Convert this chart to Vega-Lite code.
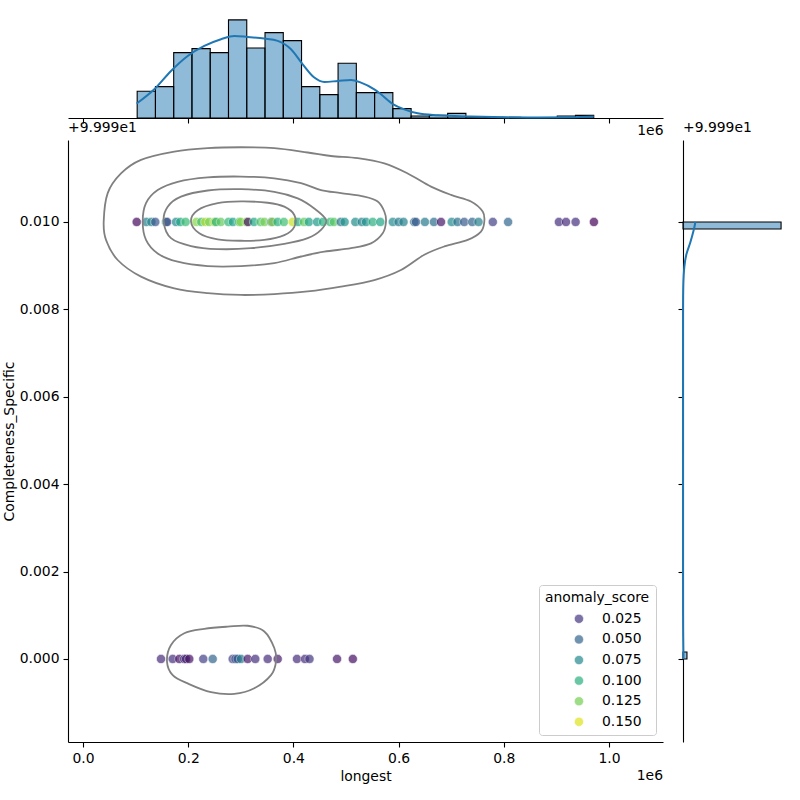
{
  "$schema": "https://vega.github.io/schema/vega-lite/v6.json",
  "padding": {"left": 2, "top": 15, "right": 0, "bottom": 0},
  "background": "white",
  "config": {
    "font": "DejaVu Sans",
    "view": {"stroke": null},
    "axis": {
      "labelFont": "DejaVu Sans", "labelFontSize": 13.9, "labelColor": "#000",
      "titleFont": "DejaVu Sans", "titleFontSize": 13.9, "titleFontWeight": "normal", "titleColor": "#000",
      "domainColor": "#000", "domainWidth": 1.1, "tickColor": "#000", "tickWidth": 1.1, "tickSize": 5,
      "labelPadding": 4, "grid": false
    },
    "title": {"font": "DejaVu Sans", "fontSize": 13.9, "fontWeight": "normal", "color": "#000", "anchor": "start", "frame": "group"}
  },
  "datasets": {
    "hist_x": [
      {"bin_start": 103000, "bin_end": 137720, "count": 40},
      {"bin_start": 137720, "bin_end": 172440, "count": 47},
      {"bin_start": 172440, "bin_end": 207160, "count": 98},
      {"bin_start": 207160, "bin_end": 241880, "count": 104},
      {"bin_start": 241880, "bin_end": 276600, "count": 98},
      {"bin_start": 276600, "bin_end": 311320, "count": 147},
      {"bin_start": 311320, "bin_end": 346040, "count": 105},
      {"bin_start": 346040, "bin_end": 380760, "count": 128},
      {"bin_start": 380760, "bin_end": 415480, "count": 116},
      {"bin_start": 415480, "bin_end": 450200, "count": 47},
      {"bin_start": 450200, "bin_end": 484920, "count": 35},
      {"bin_start": 484920, "bin_end": 519640, "count": 82},
      {"bin_start": 519640, "bin_end": 554360, "count": 38},
      {"bin_start": 554360, "bin_end": 589080, "count": 38},
      {"bin_start": 589080, "bin_end": 623800, "count": 14},
      {"bin_start": 623800, "bin_end": 658520, "count": 3},
      {"bin_start": 658520, "bin_end": 693240, "count": 4},
      {"bin_start": 693240, "bin_end": 727960, "count": 7},
      {"bin_start": 727960, "bin_end": 762680, "count": 2},
      {"bin_start": 762680, "bin_end": 797400, "count": 1},
      {"bin_start": 797400, "bin_end": 832120, "count": 1},
      {"bin_start": 832120, "bin_end": 866840, "count": 0},
      {"bin_start": 866840, "bin_end": 901560, "count": 0},
      {"bin_start": 901560, "bin_end": 936280, "count": 3},
      {"bin_start": 936280, "bin_end": 971000, "count": 4}
    ],
    "kde_x": [
      {"longest": 102000, "density": 21.6},
      {"longest": 135550, "density": 43},
      {"longest": 167300, "density": 70.5},
      {"longest": 199050, "density": 93},
      {"longest": 230610, "density": 108},
      {"longest": 262360, "density": 118},
      {"longest": 287640, "density": 123},
      {"longest": 313120, "density": 121.5},
      {"longest": 344680, "density": 119},
      {"longest": 370150, "density": 115.5},
      {"longest": 395440, "density": 103},
      {"longest": 417680, "density": 80.5},
      {"longest": 439730, "density": 60.6},
      {"longest": 458750, "density": 54},
      {"longest": 484220, "density": 55.5},
      {"longest": 509510, "density": 57},
      {"longest": 528520, "density": 53},
      {"longest": 553800, "density": 43},
      {"longest": 566540, "density": 35.5},
      {"longest": 589920, "density": 20.5},
      {"longest": 610840, "density": 13},
      {"longest": 636310, "density": 7},
      {"longest": 674330, "density": 4},
      {"longest": 737640, "density": 2.1},
      {"longest": 800380, "density": 1},
      {"longest": 864450, "density": 0.6},
      {"longest": 927760, "density": 1},
      {"longest": 971050, "density": 2.1}
    ],
    "hist_y": [
      {"lo": 99.99984, "hi": 100.0, "count": 1114},
      {"lo": 99.99, "hi": 99.99016, "count": 45}
    ],
    "kde_y": [
      {"completeness": 100.0, "density": 140.7},
      {"completeness": 99.999815, "density": 121.7},
      {"completeness": 99.999535, "density": 83.6},
      {"completeness": 99.999254, "density": 38},
      {"completeness": 99.998975, "density": 15.2},
      {"completeness": 99.998602, "density": 3.8},
      {"completeness": 99.998135, "density": 0.5},
      {"completeness": 99.9975, "density": 0.1},
      {"completeness": 99.996, "density": 0},
      {"completeness": 99.994, "density": 0},
      {"completeness": 99.992, "density": 0.1},
      {"completeness": 99.991, "density": 0.6},
      {"completeness": 99.9905, "density": 2},
      {"completeness": 99.99, "density": 5.5}
    ],
    "points": [
      {"longest": 102090, "completeness": 100.0, "anomaly_score": 0.004},
      {"longest": 120530, "completeness": 100.0, "anomaly_score": 0.068},
      {"longest": 130000, "completeness": 100.0, "anomaly_score": 0.075},
      {"longest": 137450, "completeness": 100.0, "anomaly_score": 0.042},
      {"longest": 157790, "completeness": 100.0, "anomaly_score": 0.085},
      {"longest": 160000, "completeness": 100.0, "anomaly_score": 0.03},
      {"longest": 176800, "completeness": 100.0, "anomaly_score": 0.075},
      {"longest": 185000, "completeness": 100.0, "anomaly_score": 0.095},
      {"longest": 195060, "completeness": 100.0, "anomaly_score": 0.108},
      {"longest": 215590, "completeness": 100.0, "anomaly_score": 0.13},
      {"longest": 225000, "completeness": 100.0, "anomaly_score": 0.11},
      {"longest": 232520, "completeness": 100.0, "anomaly_score": 0.14},
      {"longest": 240000, "completeness": 100.0, "anomaly_score": 0.125},
      {"longest": 250000, "completeness": 100.0, "anomaly_score": 0.14},
      {"longest": 252850, "completeness": 100.0, "anomaly_score": 0.1},
      {"longest": 262000, "completeness": 100.0, "anomaly_score": 0.12},
      {"longest": 276620, "completeness": 100.0, "anomaly_score": 0.105},
      {"longest": 285000, "completeness": 100.0, "anomaly_score": 0.09},
      {"longest": 296960, "completeness": 100.0, "anomaly_score": 0.112},
      {"longest": 300000, "completeness": 100.0, "anomaly_score": 0.13},
      {"longest": 311000, "completeness": 100.0, "anomaly_score": 0.13},
      {"longest": 313690, "completeness": 100.0, "anomaly_score": 0.008},
      {"longest": 325000, "completeness": 100.0, "anomaly_score": 0.095},
      {"longest": 337640, "completeness": 100.0, "anomaly_score": 0.115},
      {"longest": 345000, "completeness": 100.0, "anomaly_score": 0.125},
      {"longest": 358170, "completeness": 100.0, "anomaly_score": 0.05},
      {"longest": 360000, "completeness": 100.0, "anomaly_score": 0.13},
      {"longest": 370000, "completeness": 100.0, "anomaly_score": 0.1},
      {"longest": 381940, "completeness": 100.0, "anomaly_score": 0.11},
      {"longest": 398700, "completeness": 100.0, "anomaly_score": 0.145},
      {"longest": 408740, "completeness": 100.0, "anomaly_score": 0.095},
      {"longest": 420000, "completeness": 100.0, "anomaly_score": 0.12},
      {"longest": 429470, "completeness": 100.0, "anomaly_score": 0.09},
      {"longest": 445000, "completeness": 100.0, "anomaly_score": 0.085},
      {"longest": 456280, "completeness": 100.0, "anomaly_score": 0.1},
      {"longest": 470000, "completeness": 100.0, "anomaly_score": 0.105},
      {"longest": 477000, "completeness": 100.0, "anomaly_score": 0.118},
      {"longest": 490000, "completeness": 100.0, "anomaly_score": 0.06},
      {"longest": 497340, "completeness": 100.0, "anomaly_score": 0.082},
      {"longest": 517690, "completeness": 100.0, "anomaly_score": 0.078},
      {"longest": 530000, "completeness": 100.0, "anomaly_score": 0.07},
      {"longest": 538030, "completeness": 100.0, "anomaly_score": 0.08},
      {"longest": 550800, "completeness": 100.0, "anomaly_score": 0.1},
      {"longest": 565220, "completeness": 100.0, "anomaly_score": 0.092},
      {"longest": 588980, "completeness": 100.0, "anomaly_score": 0.075},
      {"longest": 600000, "completeness": 100.0, "anomaly_score": 0.065},
      {"longest": 609320, "completeness": 100.0, "anomaly_score": 0.07},
      {"longest": 629660, "completeness": 100.0, "anomaly_score": 0.055},
      {"longest": 633000, "completeness": 100.0, "anomaly_score": 0.045},
      {"longest": 650000, "completeness": 100.0, "anomaly_score": 0.065},
      {"longest": 667120, "completeness": 100.0, "anomaly_score": 0.058},
      {"longest": 680620, "completeness": 100.0, "anomaly_score": 0.01},
      {"longest": 700960, "completeness": 100.0, "anomaly_score": 0.075},
      {"longest": 712000, "completeness": 100.0, "anomaly_score": 0.06},
      {"longest": 724730, "completeness": 100.0, "anomaly_score": 0.045},
      {"longest": 740000, "completeness": 100.0, "anomaly_score": 0.05},
      {"longest": 751910, "completeness": 100.0, "anomaly_score": 0.068},
      {"longest": 779100, "completeness": 100.0, "anomaly_score": 0.03},
      {"longest": 808180, "completeness": 100.0, "anomaly_score": 0.052},
      {"longest": 904750, "completeness": 100.0, "anomaly_score": 0.022},
      {"longest": 918250, "completeness": 100.0, "anomaly_score": 0.02},
      {"longest": 936500, "completeness": 100.0, "anomaly_score": 0.022},
      {"longest": 971290, "completeness": 100.0, "anomaly_score": 0.002},
      {"longest": 148290, "completeness": 99.99, "anomaly_score": 0.02},
      {"longest": 170530, "completeness": 99.99, "anomaly_score": 0.022},
      {"longest": 183080, "completeness": 99.99, "anomaly_score": 0.008},
      {"longest": 192590, "completeness": 99.99, "anomaly_score": 0.025},
      {"longest": 196000, "completeness": 99.99, "anomaly_score": 0.015},
      {"longest": 202090, "completeness": 99.99, "anomaly_score": 0.008},
      {"longest": 228710, "completeness": 99.99, "anomaly_score": 0.03},
      {"longest": 246580, "completeness": 99.99, "anomaly_score": 0.05},
      {"longest": 284600, "completeness": 99.99, "anomaly_score": 0.03},
      {"longest": 290000, "completeness": 99.99, "anomaly_score": 0.04},
      {"longest": 294110, "completeness": 99.99, "anomaly_score": 0.045},
      {"longest": 300380, "completeness": 99.99, "anomaly_score": 0.065},
      {"longest": 313120, "completeness": 99.99, "anomaly_score": 0.01},
      {"longest": 327570, "completeness": 99.99, "anomaly_score": 0.022},
      {"longest": 351140, "completeness": 99.99, "anomaly_score": 0.02},
      {"longest": 370150, "completeness": 99.99, "anomaly_score": 0.012},
      {"longest": 406800, "completeness": 99.99, "anomaly_score": 0.02},
      {"longest": 422000, "completeness": 99.99, "anomaly_score": 0.02},
      {"longest": 430600, "completeness": 99.99, "anomaly_score": 0.025},
      {"longest": 483000, "completeness": 99.99, "anomaly_score": 0.01},
      {"longest": 513000, "completeness": 99.99, "anomaly_score": 0.006}
    ],
    "contours": [
      {"level": "c1", "order": 0, "longest": 39350, "completeness": 100.00001},
      {"level": "c1", "order": 1, "longest": 46960, "completeness": 100.00066},
      {"level": "c1", "order": 2, "longest": 72240, "completeness": 100.00111},
      {"level": "c1", "order": 3, "longest": 110270, "completeness": 100.00142},
      {"level": "c1", "order": 4, "longest": 173570, "completeness": 100.00161},
      {"level": "c1", "order": 5, "longest": 237070, "completeness": 100.00169},
      {"level": "c1", "order": 6, "longest": 300380, "completeness": 100.00171},
      {"level": "c1", "order": 7, "longest": 363680, "completeness": 100.00169},
      {"level": "c1", "order": 8, "longest": 427190, "completeness": 100.00159},
      {"level": "c1", "order": 9, "longest": 471480, "completeness": 100.00151},
      {"level": "c1", "order": 10, "longest": 522240, "completeness": 100.00146},
      {"level": "c1", "order": 11, "longest": 572810, "completeness": 100.00134},
      {"level": "c1", "order": 12, "longest": 617300, "completeness": 100.00111},
      {"level": "c1", "order": 13, "longest": 661600, "completeness": 100.00081},
      {"level": "c1", "order": 14, "longest": 699620, "completeness": 100.00062},
      {"level": "c1", "order": 15, "longest": 737640, "completeness": 100.00047},
      {"level": "c1", "order": 16, "longest": 759890, "completeness": 100.00024},
      {"level": "c1", "order": 17, "longest": 762930, "completeness": 100.00001},
      {"level": "c1", "order": 18, "longest": 756650, "completeness": 99.99978},
      {"level": "c1", "order": 19, "longest": 731370, "completeness": 99.99959},
      {"level": "c1", "order": 20, "longest": 686880, "completeness": 99.99944},
      {"level": "c1", "order": 21, "longest": 648860, "completeness": 99.99925},
      {"level": "c1", "order": 22, "longest": 604550, "completeness": 99.9989},
      {"level": "c1", "order": 23, "longest": 553800, "completeness": 99.99867},
      {"level": "c1", "order": 24, "longest": 490410, "completeness": 99.99852},
      {"level": "c1", "order": 25, "longest": 427190, "completeness": 99.99841},
      {"level": "c1", "order": 26, "longest": 363680, "completeness": 99.99835},
      {"level": "c1", "order": 27, "longest": 300380, "completeness": 99.99833},
      {"level": "c1", "order": 28, "longest": 237070, "completeness": 99.99837},
      {"level": "c1", "order": 29, "longest": 173570, "completeness": 99.99848},
      {"level": "c1", "order": 30, "longest": 110270, "completeness": 99.99875},
      {"level": "c1", "order": 31, "longest": 65970, "completeness": 99.99913},
      {"level": "c1", "order": 32, "longest": 43730, "completeness": 99.99959},
      {"level": "c2", "order": 0, "longest": 113500, "completeness": 100.00001},
      {"level": "c2", "order": 1, "longest": 119770, "completeness": 100.00043},
      {"level": "c2", "order": 2, "longest": 142010, "completeness": 100.00073},
      {"level": "c2", "order": 3, "longest": 180040, "completeness": 100.00092},
      {"level": "c2", "order": 4, "longest": 237070, "completeness": 100.00102},
      {"level": "c2", "order": 5, "longest": 300380, "completeness": 100.00104},
      {"level": "c2", "order": 6, "longest": 363680, "completeness": 100.001},
      {"level": "c2", "order": 7, "longest": 414450, "completeness": 100.00089},
      {"level": "c2", "order": 8, "longest": 452470, "completeness": 100.00073},
      {"level": "c2", "order": 9, "longest": 490490, "completeness": 100.00066},
      {"level": "c2", "order": 10, "longest": 534790, "completeness": 100.00058},
      {"level": "c2", "order": 11, "longest": 560270, "completeness": 100.00047},
      {"level": "c2", "order": 12, "longest": 572810, "completeness": 100.00024},
      {"level": "c2", "order": 13, "longest": 576040, "completeness": 100.00001},
      {"level": "c2", "order": 14, "longest": 569770, "completeness": 99.99974},
      {"level": "c2", "order": 15, "longest": 547530, "completeness": 99.99951},
      {"level": "c2", "order": 16, "longest": 509510, "completeness": 99.9994},
      {"level": "c2", "order": 17, "longest": 458740, "completeness": 99.99932},
      {"level": "c2", "order": 18, "longest": 414450, "completeness": 99.99921},
      {"level": "c2", "order": 19, "longest": 363680, "completeness": 99.99906},
      {"level": "c2", "order": 20, "longest": 300380, "completeness": 99.99899},
      {"level": "c2", "order": 21, "longest": 237070, "completeness": 99.99899},
      {"level": "c2", "order": 22, "longest": 180040, "completeness": 99.99909},
      {"level": "c2", "order": 23, "longest": 142010, "completeness": 99.99928},
      {"level": "c2", "order": 24, "longest": 119770, "completeness": 99.99959},
      {"level": "c3", "order": 0, "longest": 153420, "completeness": 100.00001},
      {"level": "c3", "order": 1, "longest": 161030, "completeness": 100.00035},
      {"level": "c3", "order": 2, "longest": 186310, "completeness": 100.00058},
      {"level": "c3", "order": 3, "longest": 237070, "completeness": 100.00072},
      {"level": "c3", "order": 4, "longest": 300380, "completeness": 100.00075},
      {"level": "c3", "order": 5, "longest": 363680, "completeness": 100.00069},
      {"level": "c3", "order": 6, "longest": 408170, "completeness": 100.00054},
      {"level": "c3", "order": 7, "longest": 439730, "completeness": 100.00031},
      {"level": "c3", "order": 8, "longest": 461970, "completeness": 100.00005},
      {"level": "c3", "order": 9, "longest": 452470, "completeness": 99.99982},
      {"level": "c3", "order": 10, "longest": 427190, "completeness": 99.99963},
      {"level": "c3", "order": 11, "longest": 382700, "completeness": 99.9995},
      {"level": "c3", "order": 12, "longest": 319390, "completeness": 99.9994},
      {"level": "c3", "order": 13, "longest": 256080, "completeness": 99.99938},
      {"level": "c3", "order": 14, "longest": 205320, "completeness": 99.99945},
      {"level": "c3", "order": 15, "longest": 167300, "completeness": 99.99963},
      {"level": "c4", "order": 0, "longest": 205320, "completeness": 100.00001},
      {"level": "c4", "order": 1, "longest": 218060, "completeness": 100.00027},
      {"level": "c4", "order": 2, "longest": 256080, "completeness": 100.00043},
      {"level": "c4", "order": 3, "longest": 300380, "completeness": 100.00047},
      {"level": "c4", "order": 4, "longest": 351140, "completeness": 100.00044},
      {"level": "c4", "order": 5, "longest": 382700, "completeness": 100.00035},
      {"level": "c4", "order": 6, "longest": 401710, "completeness": 100.00016},
      {"level": "c4", "order": 7, "longest": 401710, "completeness": 99.99989},
      {"level": "c4", "order": 8, "longest": 382700, "completeness": 99.9997},
      {"level": "c4", "order": 9, "longest": 344680, "completeness": 99.99959},
      {"level": "c4", "order": 10, "longest": 300380, "completeness": 99.99957},
      {"level": "c4", "order": 11, "longest": 256080, "completeness": 99.9996},
      {"level": "c4", "order": 12, "longest": 221100, "completeness": 99.99974},
      {"level": "c5", "order": 0, "longest": 159700, "completeness": 99.98994},
      {"level": "c5", "order": 1, "longest": 167300, "completeness": 99.99032},
      {"level": "c5", "order": 2, "longest": 192590, "completeness": 99.99059},
      {"level": "c5", "order": 3, "longest": 230610, "completeness": 99.99069},
      {"level": "c5", "order": 4, "longest": 275100, "completeness": 99.99074},
      {"level": "c5", "order": 5, "longest": 313120, "completeness": 99.99076},
      {"level": "c5", "order": 6, "longest": 344680, "completeness": 99.99063},
      {"level": "c5", "order": 7, "longest": 363680, "completeness": 99.99025},
      {"level": "c5", "order": 8, "longest": 366920, "completeness": 99.98994},
      {"level": "c5", "order": 9, "longest": 357410, "completeness": 99.98963},
      {"level": "c5", "order": 10, "longest": 325660, "completeness": 99.98933},
      {"level": "c5", "order": 11, "longest": 287640, "completeness": 99.9892},
      {"level": "c5", "order": 12, "longest": 243340, "completeness": 99.98924},
      {"level": "c5", "order": 13, "longest": 199050, "completeness": 99.98944},
      {"level": "c5", "order": 14, "longest": 170530, "completeness": 99.98963}
    ]
  },
  "columns": 2,
  "spacing": {"row": 22, "column": 20},
  "bounds": "flush",
  "resolve": {
    "scale": {"x": "independent", "y": "independent", "color": "independent"},
    "legend": {"color": "independent"}
  },
  "concat": [
    {
      "width": 595,
      "height": 103,
      "layer": [
        {
          "data": {"name": "hist_x"},
          "mark": {"type": "rect", "fill": "#1f77b4", "fillOpacity": 0.5, "stroke": "#000", "strokeWidth": 1.1},
          "encoding": {
            "x": {"field": "bin_start", "type": "quantitative",
              "scale": {"domain": [-28517, 1102661], "nice": false, "zero": false},
              "axis": {"values": [0, 200000, 400000, 600000, 800000, 1000000], "labels": false, "title": "1e6", "titleAnchor": "end", "titlePadding": 0}},
            "x2": {"field": "bin_end"},
            "y": {"field": "count", "type": "quantitative", "scale": {"domain": [0, 154.35], "nice": false}, "axis": null},
            "y2": {"datum": 0}
          }
        },
        {
          "data": {"name": "kde_x"},
          "mark": {"type": "line", "color": "#1f77b4", "strokeWidth": 2, "interpolate": "monotone"},
          "encoding": {
            "x": {"field": "longest", "type": "quantitative"},
            "y": {"field": "density", "type": "quantitative"}
          }
        }
      ]
    },
    {
      "width": 103,
      "height": 103,
      "data": {"values": [{"v": 0}]},
      "mark": {"type": "point", "opacity": 0},
      "encoding": {
        "x": {"field": "v", "type": "quantitative", "axis": null},
        "y": {"field": "v", "type": "quantitative", "axis": null}
      }
    },
    {
      "width": 595,
      "height": 602,
      "title": {"text": "+9.999e1", "anchor": "start", "frame": "group", "offset": 5},
      "layer": [
        {
          "data": {"name": "points"},
          "mark": {"type": "circle", "size": 85, "opacity": 0.7, "stroke": "white", "strokeWidth": 0.6},
          "encoding": {
            "x": {"field": "longest", "type": "quantitative",
              "scale": {"domain": [-28517, 1102661], "nice": false, "zero": false},
              "axis": {"values": [0, 200000, 400000, 600000, 800000, 1000000], "labelExpr": "format(datum.value / 1000000, '.1f')", "title": "longest", "titlePadding": 5}},
            "y": {"field": "completeness", "type": "quantitative",
              "scale": {"domain": [99.9881, 100.001876], "nice": false, "zero": false},
              "axis": {"values": [99.99, 99.992, 99.994, 99.996, 99.998, 100.0], "labelExpr": "format(datum.value - 99.99, '.3f')", "title": "Completeness_Specific", "titlePadding": 3}},
            "color": {"field": "anomaly_score", "type": "quantitative",
              "scale": {"scheme": "viridis", "domain": [0, 0.158]},
              "legend": {
                "type": "symbol", "values": [0.025, 0.05, 0.075, 0.1, 0.125, 0.15], "format": ".3f",
                "title": "anomaly_score", "orient": "bottom-right", "offset": 7,
                "fillColor": "white", "strokeColor": "#cccccc", "cornerRadius": 3, "padding": 6,
                "titleFont": "DejaVu Sans", "titleFontSize": 13.9, "titleFontWeight": "normal", "titleColor": "#000", "titleAnchor": "middle", "titlePadding": 7,
                "labelFont": "DejaVu Sans", "labelFontSize": 13.9, "labelColor": "#000",
                "symbolType": "circle", "symbolSize": 85, "symbolOpacity": 0.7, "symbolStrokeColor": "white", "symbolStrokeWidth": 0.6,
                "symbolOffset": 20, "labelOffset": 16, "rowPadding": 5.6
              }}
          }
        },
        {
          "data": {"name": "contours"},
          "mark": {"type": "line", "color": "#808080", "strokeWidth": 1.8, "interpolate": "cardinal-closed"},
          "encoding": {
            "x": {"field": "longest", "type": "quantitative"},
            "y": {"field": "completeness", "type": "quantitative"},
            "detail": {"field": "level"},
            "order": {"field": "order"}
          }
        },
        {
          "data": {"values": [{"label": "1e6"}]},
          "mark": {"type": "text", "align": "right", "baseline": "middle", "dy": 34, "font": "DejaVu Sans", "fontSize": 13.9, "color": "#000"},
          "encoding": {
            "x": {"datum": 1102661},
            "y": {"datum": 99.9881},
            "text": {"field": "label"}
          }
        }
      ]
    },
    {
      "width": 103,
      "height": 602,
      "title": {"text": "+9.999e1", "anchor": "start", "frame": "group", "offset": 5},
      "layer": [
        {
          "data": {"name": "hist_y"},
          "mark": {"type": "rect", "fill": "#1f77b4", "fillOpacity": 0.5, "stroke": "#000", "strokeWidth": 1.1},
          "encoding": {
            "y": {"field": "lo", "type": "quantitative",
              "scale": {"domain": [99.9881, 100.001876], "nice": false, "zero": false},
              "axis": {"values": [99.99, 99.992, 99.994, 99.996, 99.998, 100.0], "labels": false, "title": null}},
            "y2": {"field": "hi"},
            "x": {"field": "count", "type": "quantitative", "scale": {"domain": [0, 1170], "nice": false}, "axis": null},
            "x2": {"datum": 0}
          }
        },
        {
          "data": {"name": "kde_y"},
          "mark": {"type": "line", "color": "#1f77b4", "strokeWidth": 2, "interpolate": "cardinal"},
          "encoding": {
            "x": {"field": "density", "type": "quantitative"},
            "y": {"field": "completeness", "type": "quantitative"},
            "order": {"field": "completeness"}
          }
        }
      ]
    }
  ]
}
